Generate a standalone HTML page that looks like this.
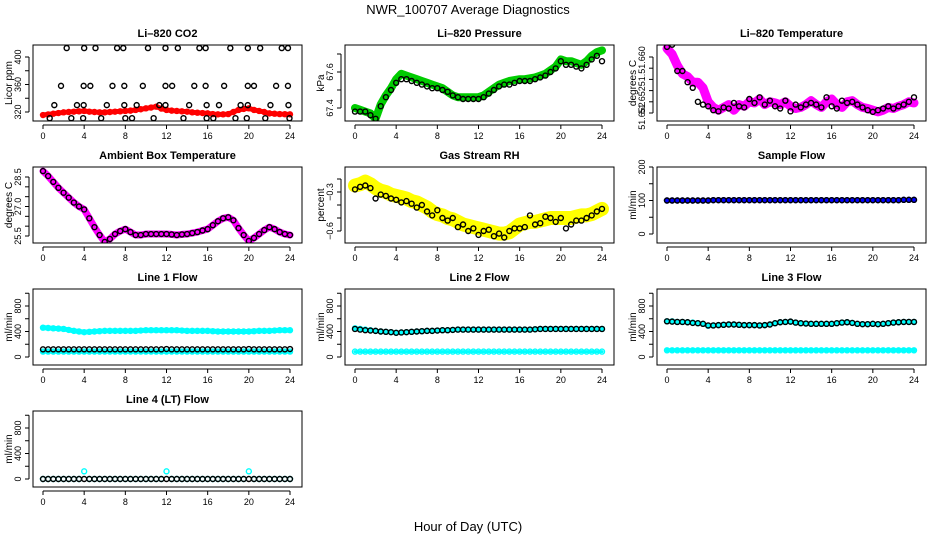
<!DOCTYPE html>
<html><head><meta charset="utf-8"><style>
html,body{margin:0;padding:0;background:#fff;}
svg{display:block;font-family:"Liberation Sans",sans-serif;}
</style></head><body>
<svg id="chart" width="936" height="540" viewBox="0 0 936 540">
<text x="468" y="14" text-anchor="middle" font-size="13">NWR_100707  Average Diagnostics</text>
<text x="468" y="531" text-anchor="middle" font-size="13">Hour of Day (UTC)</text>
</svg>
<script>
// ---------- data ----------
const xTicks = [0,4,8,12,16,20,24];
// CO2
const co2Red = [315.6,316.5,317.5,318.5,319.5,320,320.5,321,321.5,320.5,320,319.5,319.5,320,320.5,321,321.5,322,323,324,325.3,326.5,327.8,325,323,322,321.5,321,320.5,319.5,319,318.5,318,317,316.6,316.6,317,320,323,324.5,325.3,323,321.5,320,318,317.5,317,316.8,316.6];
const co2BlackHours = [2.3,4.0,5.1,7.2,7.8,10.2,11.9,13.1,15.2,15.8,18.2,19.9,21.1,23.2,23.8, 1.75,3.95,4.6,6.75,7.9,9.7,11.9,12.55,14.7,15.8,17.6,19.9,20.5,22.65,23.8, 1.1,3.3,3.95,6.2,7.9,9.1,11.3,11.9,14.2,15.9,17.1,19.2,19.9,22.1,23.85, 0.65,2.75,3.9,5.65,8.0,8.65,10.75,13.65,15.9,16.55,18.7,19.8,21.6,23.95];
const co2BlackVals = [413,413,413,413,413,413,413,413,413,413,413,413,413,413,413, 358,358,358,358,358,358,358,358,358,358,358,358,358,358,358, 330,330,330,330,330,330,330,330,330,330,330,330,330,330,330, 311,311,311,311,311,311,311,311,311,311,311,311,311,311];
// Pressure
const presGreen = [67.40,67.39,67.38,67.37,67.34,67.42,67.47,67.51,67.56,67.59,67.58,67.57,67.56,67.55,67.54,67.53,67.52,67.51,67.49,67.47,67.46,67.46,67.46,67.46,67.46,67.47,67.49,67.51,67.53,67.54,67.55,67.555,67.56,67.56,67.565,67.57,67.58,67.59,67.61,67.63,67.67,67.66,67.66,67.65,67.64,67.66,67.69,67.71,67.72];
const presBlack = [67.38,67.38,67.38,67.36,67.34,67.41,67.46,67.50,67.54,67.56,67.56,67.55,67.54,67.53,67.52,67.51,67.51,67.50,67.49,67.47,67.46,67.45,67.45,67.45,67.45,67.46,67.48,67.50,67.52,67.53,67.53,67.54,67.55,67.55,67.55,67.56,67.57,67.58,67.60,67.62,67.66,67.64,67.64,67.63,67.62,67.64,67.67,67.69,67.66];
// Li-820 temperature
const tempMag = [51.6615,51.6605,51.6585,51.657,51.6565,51.6555,51.6555,51.6545,51.652,51.651,51.6505,51.651,51.6515,51.6505,51.6515,51.6512,51.652,51.6518,51.6525,51.6515,51.652,51.6518,51.6515,51.652,51.6512,51.6508,51.651,51.6515,51.6522,51.6515,51.651,51.652,51.6525,51.6515,51.651,51.652,51.6522,51.6515,51.651,51.6508,51.6505,51.6502,51.6505,51.651,51.6508,51.6512,51.6515,51.652,51.6518];
const tempBlack = [51.6618,51.6622,51.6575,51.6575,51.6555,51.6545,51.652,51.6515,51.6512,51.6505,51.6503,51.651,51.6508,51.6518,51.6512,51.651,51.6525,51.6518,51.6528,51.6515,51.6522,51.6512,51.6508,51.6522,51.6503,51.6515,51.651,51.6515,51.6518,51.6515,51.651,51.6528,51.6512,51.6508,51.6522,51.6518,51.652,51.6515,51.651,51.6505,51.6502,51.6505,51.6508,51.6512,51.6508,51.6512,51.6515,51.652,51.6528];
// Ambient
const ambMag = [28.8,28.55,28.25,27.95,27.7,27.45,27.2,27.0,26.85,26.4,25.95,25.55,25.2,25.35,25.6,25.75,25.85,25.7,25.55,25.55,25.6,25.6,25.6,25.6,25.6,25.58,25.55,25.58,25.6,25.65,25.7,25.78,25.85,26.05,26.25,26.4,26.45,26.3,25.9,25.55,25.25,25.4,25.6,25.8,25.95,25.85,25.7,25.6,25.55];
const ambBlack = [28.8,28.55,28.25,27.95,27.7,27.45,27.2,27.0,26.85,26.4,25.95,25.55,25.2,25.35,25.6,25.75,25.85,25.7,25.55,25.55,25.6,25.6,25.6,25.6,25.6,25.58,25.55,25.58,25.6,25.65,25.7,25.78,25.85,26.05,26.25,26.4,26.45,26.3,25.9,25.55,25.25,25.4,25.6,25.8,25.95,25.85,25.7,25.6,25.55];
// RH
const rhYellow = [-0.25,-0.24,-0.22,-0.24,-0.27,-0.29,-0.3,-0.32,-0.33,-0.34,-0.35,-0.37,-0.38,-0.4,-0.42,-0.45,-0.47,-0.48,-0.5,-0.51,-0.53,-0.55,-0.56,-0.57,-0.58,-0.59,-0.6,-0.61,-0.62,-0.62,-0.61,-0.58,-0.55,-0.54,-0.53,-0.53,-0.52,-0.51,-0.5,-0.5,-0.5,-0.5,-0.5,-0.49,-0.48,-0.48,-0.47,-0.45,-0.43];
const rhBlack = [-0.28,-0.26,-0.25,-0.27,-0.35,-0.32,-0.33,-0.35,-0.36,-0.38,-0.37,-0.39,-0.42,-0.4,-0.45,-0.48,-0.44,-0.5,-0.52,-0.5,-0.57,-0.55,-0.6,-0.58,-0.63,-0.6,-0.59,-0.64,-0.62,-0.65,-0.6,-0.58,-0.58,-0.57,-0.48,-0.55,-0.54,-0.49,-0.5,-0.53,-0.5,-0.58,-0.55,-0.52,-0.52,-0.5,-0.48,-0.45,-0.43];
// Sample flow
const sampleBlue = [100,100,100,100,100,100,100,100,100,101,101,101,101,101,101,101,101,101,101,101,101,101,101,101,101,101,101,101,101,101,101,101,101,101,101,101,101,101,101,101,101,101,101,101,101,101,102,102,102];
const sampleBlack = [100,100,100,100,100,100,100,100,100,101,101,101,101,101,101,101,101,101,101,101,101,101,101,101,101,101,101,101,101,101,101,101,101,101,101,101,101,101,101,101,101,101,101,101,101,101,102,102,102];
// Line flows
const l1CyanHi = [460,455,450,445,440,425,410,400,390,395,400,405,410,410,410,410,410,410,410,415,420,420,420,420,420,420,420,415,410,410,410,410,410,405,400,400,400,400,400,400,400,405,410,410,410,415,420,420,420];
const l1CyanLo = [85,85,85,85,85,85,85,85,85,85,85,85,85,85,85,85,85,85,85,85,85,85,85,85,85,85,85,85,85,85,85,85,85,85,85,85,85,85,85,85,85,85,85,85,85,85,85,85,85];
const l1Black = [120,120,120,120,120,120,120,120,120,120,120,120,120,120,120,120,120,120,120,120,120,120,120,120,125,120,120,120,120,120,120,120,120,120,120,120,120,120,120,120,125,120,120,120,120,120,120,120,125];
const l2CyanHi = [450,440,430,420,410,400,395,390,380,385,390,395,400,405,410,410,415,420,420,425,430,430,430,430,430,430,430,430,430,430,430,430,430,430,430,435,440,440,440,440,440,440,440,440,440,440,440,440,440];
const l2CyanLo = [85,85,85,85,85,85,85,85,85,85,85,85,85,85,85,85,85,85,85,85,85,85,85,85,85,85,85,85,85,85,85,85,85,85,85,85,85,85,85,85,85,85,85,85,85,85,85,85,85];
const l2Black = [440,430,420,415,410,400,395,390,380,385,390,395,400,405,410,410,415,420,420,425,430,430,430,430,430,430,430,430,430,430,430,430,430,430,430,435,440,440,440,440,440,440,440,440,440,440,440,440,440];
const l3CyanHi = [560,560,550,550,545,540,530,520,490,495,500,505,510,510,505,500,500,500,495,500,510,530,545,550,555,540,530,525,520,520,520,520,520,530,540,545,535,520,515,515,520,515,520,530,540,545,550,550,550];
const l3CyanLo = [105,105,105,105,105,105,105,105,105,105,105,105,105,105,105,105,105,105,105,105,105,105,105,105,105,105,105,105,105,105,105,105,105,105,105,105,105,105,105,105,105,105,105,105,105,105,105,105,105];
const l3Black = [560,555,550,550,545,535,530,520,495,495,500,505,510,510,505,500,500,500,495,500,510,530,545,550,555,540,530,525,520,520,520,520,520,530,540,545,535,520,515,515,520,515,520,530,540,545,550,550,550];
const l4Cyan = [0,0,0,0,0,0,0,0,120,0,0,0,0,0,0,0,0,0,0,0,0,0,0,0,120,0,0,0,0,0,0,0,0,0,0,0,0,0,0,0,120,0,0,0,0,0,0,0,0];
const l4Black = [0,0,0,0,0,0,0,0,0,0,0,0,0,0,0,0,0,0,0,0,0,0,0,0,0,0,0,0,0,0,0,0,0,0,0,0,0,0,0,0,0,0,0,0,0,0,0,0,0];

// ---------- drawing ----------
const NS = "http://www.w3.org/2000/svg";
const svg = document.getElementById('chart');
function mk(tag, attrs, parent){ const e=document.createElementNS(NS,tag); for(const k in attrs) e.setAttribute(k,attrs[k]); (parent||svg).appendChild(e); return e; }
function halfHours(arr){ return arr.map((v,i)=>i*0.5); }

function panel(cfg){
  const left = 33 + cfg.col*312, right = left+269, top = 45 + cfg.row*122, bottom = top+76;
  const x0 = 43 + cfg.col*312, x1 = x0+247;
  const xs = h => x0 + (x1-x0)*h/24;
  const ys = v => cfg.py0 + (v-cfg.v0)*(cfg.py1-cfg.py0)/(cfg.v1-cfg.v0) + cfg.row*122;
  const g = mk('g',{});
  
  
  const t = mk('text',{x:(left+right)/2, y:top-8, 'text-anchor':'middle','font-size':11,'font-weight':'bold'},g);
  t.textContent = cfg.title;
  
  
  const clip = 'clip'+cfg.row+cfg.col;
  const cp = mk('clipPath',{id:clip},g); mk('rect',{x:left,y:top,width:right-left,height:bottom-top},cp);
  const pg = mk('g',{'clip-path':'url(#'+clip+')'},g);
  cfg.series.forEach(s=>{
    const hs = s.hours || halfHours(s.vals);
    if(s.band){
      const pl = mk('polyline',{points:s.vals.map((v,i)=>xs(hs[i])+','+ys(v)).join(' '),fill:'none',stroke:s.color,'stroke-width':s.band,'stroke-linejoin':'round','stroke-linecap':'round'},pg);
      
      
    }
    s.vals.forEach((v,i)=>{
      const c = mk('circle',{cx:xs(hs[i]),cy:ys(v),r:2.5,fill:'none',stroke:s.color,'stroke-width':1.4},pg);
      
      
    });
  });
  const box = mk('rect',{x:left,y:top,width:right-left,height:bottom-top,fill:'none',stroke:'#000','stroke-width':1},g);
  
  
  mk('line',{x1:xs(0),x2:xs(24),y1:bottom+4,y2:bottom+4,stroke:'#000'},g);
  xTicks.forEach(h=>{
    mk('line',{x1:xs(h),x2:xs(h),y1:bottom+4,y2:bottom+8,stroke:'#000'},g);
    const tl = mk('text',{x:xs(h),y:bottom+18,'text-anchor':'middle','font-size':9},g);
    tl.textContent = h;
    
    
  });
  const ax = left-4;
  const yv = cfg.yTicks.map(ys);
  mk('line',{x1:ax,x2:ax,y1:Math.min(...yv),y2:Math.max(...yv),stroke:'#000'},g);
  cfg.yTicks.forEach(v=>mk('line',{x1:ax-4,x2:ax,y1:ys(v),y2:ys(v),stroke:'#000'},g));
  cfg.yLabels.forEach((lab,i)=>{
    const yy = cfg.yLabelPos ? cfg.yLabelPos[i] + cfg.row*122 : ys(cfg.yLabelVals[i]);
    const tl = mk('text',{x:0,y:0,'text-anchor':'middle','font-size':9,transform:'translate('+(ax-8)+','+yy+') rotate(-90)'},g);
    tl.textContent = lab;
    
    
  });
  const yl = mk('text',{x:0,y:0,'text-anchor':'middle','font-size':10,transform:'translate('+(left-21)+','+((top+bottom)/2)+') rotate(-90)'},g);
  yl.textContent = cfg.ylab;
  
  
}

const flowTicks=[0,200,400,600,800,1000], flowLabs=['0','400','800'], flowLabVals=[0,400,800];
const panels = [
 {name:'co2-panel',row:0,col:0,title:'Li\u2013820 CO2',ylab:'Licor ppm',v0:320,py0:112,v1:400,py1:57,yTicks:[320,340,360,380,400],yLabels:['320','360','400'],yLabelVals:[320,360,400],
  series:[{name:'co2-red',vals:co2Red,color:'#ff0000',band:5},{name:'co2-black',vals:co2BlackVals,hours:co2BlackHours,color:'#000'}]},
 {name:'pressure-panel',row:0,col:1,title:'Li\u2013820 Pressure',ylab:'kPa',v0:67.4,py0:108,v1:67.6,py1:72,yTicks:[67.4,67.5,67.6,67.7],yLabels:['67.4','67.6'],yLabelVals:[67.4,67.6],
  series:[{name:'pressure-green',vals:presGreen,color:'#00cc00',band:8},{name:'pressure-black',vals:presBlack,color:'#000'}]},
 {name:'temperature-panel',row:0,col:2,title:'Li\u2013820 Temperature',ylab:'degrees C',v0:51.650,py0:113,v1:51.660,py1:57,yTicks:[51.650,51.652,51.654,51.656,51.658,51.660],yLabels:['51.652','51.652','51.','51.660'],yLabelPos:[116,100,80,60],
  series:[{name:'temp-magenta',vals:tempMag,color:'#ff00ff',band:9},{name:'temp-black',vals:tempBlack,color:'#000'}]},
 {name:'ambient-panel',row:1,col:0,title:'Ambient Box Temperature',ylab:'degrees C',v0:25.5,py0:114,v1:28.5,py1:55,yTicks:[25.5,26,26.5,27,27.5,28,28.5],yLabels:['25.5','27.0','28.5'],yLabelVals:[25.5,27,28.5],
  series:[{name:'ambient-magenta',vals:ambMag,color:'#ff00ff',band:7},{name:'ambient-black',vals:ambBlack,color:'#000'}]},
 {name:'rh-panel',row:1,col:1,title:'Gas Stream RH',ylab:'percent',v0:-0.3,py0:70,v1:-0.6,py1:109,yTicks:[-0.2,-0.3,-0.4,-0.5,-0.6],yLabels:['\u22120.3','\u22120.6'],yLabelVals:[-0.3,-0.6],
  series:[{name:'rh-yellow',vals:rhYellow,color:'#ffff00',band:14},{name:'rh-black',vals:rhBlack,color:'#000'}]},
 {name:'sample-flow-panel',row:1,col:2,title:'Sample Flow',ylab:'ml/min',v0:0,py0:112,v1:200,py1:45,yTicks:[0,50,100,150,200],yLabels:['0','100','200'],yLabelVals:[0,100,200],
  series:[{name:'sample-blue',vals:sampleBlue,color:'#0000ff',band:4},{name:'sample-black',vals:sampleBlack,color:'#000'}]},
 {name:'line1-panel',row:2,col:0,title:'Line 1 Flow',ylab:'ml/min',v0:0,py0:113,v1:800,py1:62,yTicks:flowTicks,yLabels:flowLabs,yLabelVals:flowLabVals,
  series:[{name:'line1-cyan-high',vals:l1CyanHi,color:'#00ffff',band:5},{name:'line1-cyan-low',vals:l1CyanLo,color:'#00ffff',band:4},{name:'line1-black',vals:l1Black,color:'#000'}]},
 {name:'line2-panel',row:2,col:1,title:'Line 2 Flow',ylab:'ml/min',v0:0,py0:113,v1:800,py1:62,yTicks:flowTicks,yLabels:flowLabs,yLabelVals:flowLabVals,
  series:[{name:'line2-cyan-high',vals:l2CyanHi,color:'#00ffff',band:4},{name:'line2-cyan-low',vals:l2CyanLo,color:'#00ffff',band:3},{name:'line2-black',vals:l2Black,color:'#000'}]},
 {name:'line3-panel',row:2,col:2,title:'Line 3 Flow',ylab:'ml/min',v0:0,py0:113,v1:800,py1:62,yTicks:flowTicks,yLabels:flowLabs,yLabelVals:flowLabVals,
  series:[{name:'line3-cyan-high',vals:l3CyanHi,color:'#00ffff',band:4},{name:'line3-cyan-low',vals:l3CyanLo,color:'#00ffff',band:4},{name:'line3-black',vals:l3Black,color:'#000'}]},
 {name:'line4-panel',row:3,col:0,title:'Line 4 (LT) Flow',ylab:'ml/min',v0:0,py0:113,v1:800,py1:62,yTicks:flowTicks,yLabels:flowLabs,yLabelVals:flowLabVals,
  series:[{name:'line4-cyan',vals:l4Cyan,color:'#00ffff'},{name:'line4-black',vals:l4Black,color:'#000'}]}
];
panels.forEach(panel);
</script>
</body></html>
